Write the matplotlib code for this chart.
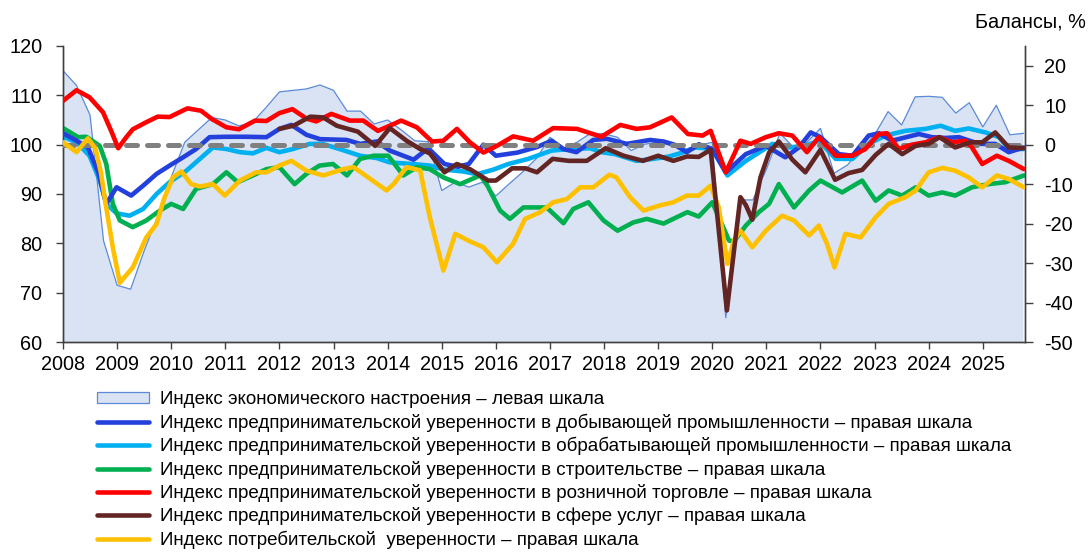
import matplotlib
matplotlib.use("Agg")
import matplotlib.pyplot as plt
import matplotlib.patches as mpatches
import numpy as np

plt.rcParams["font.family"] = ["Liberation Sans", "DejaVu Sans"]
plt.rcParams["axes.unicode_minus"] = False

# economic sentiment index (left scale), quarterly from 2008 Q1
esi_t = np.arange(2008, 2025.76, 0.25)
esi_v = [115, 112, 106, 80.5, 71.5, 70.7, 78.5, 85.5, 93.4, 100.5, 103, 105.5,
         105, 103.8, 104.5, 107.5, 110.7, 111, 111.3, 112.1, 111, 106.8, 106.8, 104.2,
         105, 103, 100.8, 100.6, 90.7, 92.4, 91.4, 92.4, 89.6, 92.1, 94.5, 97.2,
         101.5, 99.3, 100.5, 102.3, 102.2, 101.5, 98.8, 100.1, 100.5, 99.8, 99.1, 99.8,
         100.5, 64.9, 88.8, 88.8, 95, 102.3, 99.5, 100.5, 103.3, 94.2, 95.9, 99,
         102, 106.7, 104, 109.7, 109.8, 109.6, 106.4, 108.5, 103.6, 108, 102, 102.3]

# business confidence, mining (right scale)
mining_t = [2008.0, 2008.25, 2008.46, 2008.65, 2008.80, 2008.99, 2009.26, 2009.48, 2009.73,
            2009.97, 2010.22, 2010.46, 2010.71, 2011.02, 2011.39, 2011.76, 2012.0, 2012.22,
            2012.5, 2012.75, 2013.0, 2013.24, 2013.49, 2013.8, 2014.04, 2014.48, 2014.75,
            2015.05, 2015.3, 2015.5, 2015.77, 2016.0, 2016.4, 2016.76, 2017.03, 2017.25,
            2017.49, 2017.80, 2018.05, 2018.42, 2018.85, 2019.1, 2019.3, 2019.53, 2019.75,
            2020.0, 2020.25, 2020.62, 2020.99, 2021.35, 2021.6, 2021.82, 2022.0, 2022.34,
            2022.59, 2022.89, 2023.08, 2023.32, 2023.82, 2024.06, 2024.31, 2024.56, 2024.93,
            2025.23, 2025.48, 2025.76]
mining_v = [2.9, 1.0, -0.7, -7, -15, -10.8, -12.9, -10.4, -7.4,
            -5.3, -3.2, -1.1, 1.9, 2.0, 2.0, 1.9, 4.0, 5.0,
            2.5, 1.4, 1.3, 1.2, 0.2, 0.8, -1.5, -3.8, -0.9,
            -4.9, -5.6, -4.9, 0.0, -2.8, -2.0, -0.6, 1.0, -1.1,
            -1.9, 1.2, 1.5, 0.2, 1.2, 0.8, 0.0, -1.9, 0.1,
            -1.1, -7.0, -2.4, -0.3, -3.2, -0.7, 3.1, 1.9, -2.4,
            -2.8, 2.3, 2.9, 1.0, 2.7, 1.9, 1.7, 1.9, 0.2,
            0.2, -1.9, -0.7]

# business confidence, manufacturing
manuf_t = [2008.0, 2008.25, 2008.49, 2008.68, 2008.80, 2008.99, 2009.23, 2009.48, 2009.73,
           2009.97, 2010.28, 2010.53, 2010.77, 2011.02, 2011.27, 2011.51, 2011.76, 2012.0,
           2012.25, 2012.56, 2012.80, 2013.11, 2013.49, 2013.8, 2014.04, 2014.45, 2014.78,
           2015.03, 2015.4, 2015.65, 2015.96, 2016.23, 2016.6, 2017.03, 2017.37, 2017.74,
           2017.95, 2018.2, 2018.6, 2018.91, 2019.2, 2019.45, 2019.69, 2020.0, 2020.28,
           2020.62, 2020.92, 2021.11, 2021.42, 2021.72, 2021.97, 2022.28, 2022.59, 2022.89,
           2023.20, 2023.57, 2023.94, 2024.22, 2024.49, 2024.74, 2025.05, 2025.30, 2025.48,
           2025.76]
manuf_v = [2.0, 0.6, -2.8, -9.1, -15.0, -17.4, -18.0, -16.3, -12.5,
           -9.5, -6.6, -3.6, -0.7, -1.1, -1.9, -2.2, -0.8, -1.9,
           -1.1, 0.2, 0.2, -1.1, -2.8, -3.4, -4.5, -4.9, -5.3,
           -6.3, -6.8, -7.5, -6.3, -4.9, -3.6, -1.5, -1.1, -0.9,
           -1.9, -2.4, -4.1, -3.6, -3.0, -2.0, -0.7, -1.1, -7.8,
           -4.1, -1.5, 0.2, -0.7, -0.3, 1.0, -3.6, -3.6, 0.2,
           2.3, 3.5, 4.0, 4.8, 3.5, 4.1, 3.1, 1.9, -1.1,
           -1.1]

# business confidence, construction
constr_t = [2008.0, 2008.28, 2008.43, 2008.68, 2008.80, 2008.92, 2009.05, 2009.29, 2009.54,
            2009.79, 2010.0, 2010.22, 2010.46, 2010.77, 2011.02, 2011.23, 2011.51, 2011.76,
            2012.0, 2012.28, 2012.50, 2012.74, 2012.99, 2013.25, 2013.49, 2013.74, 2014.01,
            2014.29, 2014.54, 2014.78, 2015.03, 2015.34, 2015.71, 2015.83, 2016.08, 2016.26,
            2016.51, 2016.94, 2017.25, 2017.43, 2017.71, 2017.99, 2018.25, 2018.54, 2018.79,
            2019.1, 2019.28, 2019.54, 2019.75, 2020.0, 2020.31, 2020.40, 2020.62, 2020.86,
            2021.05, 2021.23, 2021.51, 2021.79, 2022.0, 2022.40, 2022.77, 2023.02, 2023.26,
            2023.51, 2023.76, 2024.0, 2024.25, 2024.49, 2024.80, 2025.11, 2025.42, 2025.76]
constr_v = [4.2, 1.9, 2.0, -0.3, -4.9, -15.0, -19.2, -20.9, -19.2,
            -16.7, -15.0, -16.3, -11.2, -10.0, -7.0, -9.5, -7.8, -6.2,
            -5.7, -10.0, -7.4, -5.3, -4.9, -7.8, -3.6, -2.8, -2.8,
            -7.8, -5.7, -6.2, -8.3, -10.0, -7.8, -10.0, -16.7, -18.8,
            -15.9, -15.9, -19.9, -16.3, -14.6, -19.2, -21.8, -19.7, -18.8,
            -20.0, -18.8, -17.1, -18.2, -14.6, -24.3, -24.5, -20.5, -17.1,
            -15.0, -10.0, -15.9, -11.6, -9.1, -12.1, -9.1, -14.2, -11.6,
            -12.9, -10.8, -12.9, -12.1, -12.9, -10.8, -10.0, -9.5, -7.8]

# business confidence, retail
retail_t = [2008.0, 2008.25, 2008.49, 2008.74, 2008.89, 2009.02, 2009.17, 2009.29, 2009.54,
            2009.75, 2009.97, 2010.3, 2010.55, 2010.75, 2011.02, 2011.25, 2011.55, 2011.76,
            2012.0, 2012.24, 2012.5, 2012.68, 2012.96, 2013.3, 2013.55, 2013.82, 2014.04,
            2014.25, 2014.54, 2014.82, 2015.03, 2015.28, 2015.52, 2015.77, 2016.02, 2016.32,
            2016.69, 2017.06, 2017.5, 2017.95, 2018.30, 2018.6, 2018.85, 2019.25, 2019.55,
            2019.82, 2019.97, 2020.25, 2020.52, 2020.71, 2020.99, 2021.23, 2021.48, 2021.75,
            2021.97, 2022.28, 2022.59, 2022.83, 2023.08, 2023.23, 2023.45, 2023.69, 2023.94,
            2024.19, 2024.43, 2024.68, 2024.80, 2024.99, 2025.26, 2025.48, 2025.76]
retail_v = [11.1, 13.8, 12.0, 8.2, 3.5, -0.9, 1.9, 3.9, 5.7,
            7.1, 7.0, 9.2, 8.6, 6.5, 4.4, 3.9, 6.1, 6.0,
            8.0, 9.0, 6.6, 5.9, 7.8, 6.1, 6.1, 3.5, 4.8,
            6.1, 4.4, 0.8, 1.0, 4.0, 0.6, -2.0, -0.3, 2.1,
            1.0, 4.2, 4.0, 2.0, 5.0, 4.0, 4.4, 6.9, 2.7,
            2.3, 3.5, -7.0, 1.0, 0.2, 1.9, 2.9, 2.3, -1.9,
            1.9, -2.8, -2.8, -1.1, 2.7, 2.9, -1.1, 0.0, 0.6,
            1.9, 0.6, 1.0, -0.7, -4.9, -2.8, -4.1, -6.2]

# business confidence, services
serv_t = [2012.0, 2012.26, 2012.57, 2012.81, 2013.06, 2013.45, 2013.77, 2014.04, 2014.35,
          2014.6, 2014.78, 2015.05, 2015.28, 2015.52, 2015.86, 2016.0, 2016.3, 2016.55,
          2016.76, 2017.05, 2017.35, 2017.68, 2018.03, 2018.36, 2018.72, 2019.0, 2019.28,
          2019.53, 2019.75, 2019.97, 2020.27, 2020.40, 2020.52, 2020.62, 2020.74, 2020.89,
          2021.05, 2021.23, 2021.48, 2021.72, 2022.0, 2022.27, 2022.52, 2022.77, 2023.02,
          2023.26, 2023.51, 2023.76, 2024.0, 2024.2, 2024.49, 2024.77, 2024.99, 2025.23,
          2025.48, 2025.76]
serv_v = [4.0, 4.8, 7.1, 6.9, 4.8, 3.3, -0.3, 4.2, 1.0,
          -1.1, -2.2, -7.0, -4.9, -6.2, -9.1, -9.1, -6.0, -6.0,
          -7.0, -3.6, -4.1, -4.1, -0.9, -2.8, -4.1, -2.8, -4.1,
          -3.0, -3.1, -1.3, -42.0, -27.0, -13.3, -15.3, -19.0, -8.3,
          -2.0, 0.8, -3.8, -7.0, -1.3, -8.9, -7.2, -6.4, -2.6,
          0.2, -2.4, -0.3, 0.2, 1.9, -0.7, 0.6, 0.6, 3.1,
          -0.7, -0.9]

# consumer confidence
cons_t = [2008.0, 2008.25, 2008.46, 2008.6, 2008.7, 2008.8, 2008.92, 2009.05, 2009.29,
          2009.54, 2009.73, 2009.86, 2010.03, 2010.19, 2010.37, 2010.53, 2010.77, 2010.99,
          2011.27, 2011.57, 2011.76, 2012.0, 2012.22, 2012.50, 2012.81, 2013.18, 2013.37,
          2013.64, 2013.98, 2014.11, 2014.35, 2014.6, 2014.78, 2015.03, 2015.25, 2015.52,
          2015.77, 2016.02, 2016.32, 2016.54, 2016.82, 2017.06, 2017.31, 2017.56, 2017.80,
          2018.1, 2018.23, 2018.48, 2018.73, 2019.03, 2019.28, 2019.53, 2019.75, 2019.97,
          2020.12, 2020.28, 2020.40, 2020.52, 2020.74, 2020.99, 2021.29, 2021.51, 2021.79,
          2021.97, 2022.12, 2022.26, 2022.46, 2022.74, 2023.02, 2023.26, 2023.57, 2023.76,
          2024.0, 2024.25, 2024.49, 2024.74, 2024.99, 2025.26, 2025.48, 2025.76]
cons_v = [0.6, -1.9, 1.6, -1.0, -7, -16, -26.0, -35.0, -31.1,
          -23.5, -20.1, -14, -8.3, -6.8, -10, -10.6, -10.0, -12.9,
          -9.1, -7.0, -7.0, -5.3, -4.1, -6.6, -7.8, -6.2, -5.7,
          -8.3, -11.6, -10.0, -5.7, -6.5, -18.4, -31.9, -22.6, -24.5,
          -26.0, -29.8, -25.1, -18.8, -17.1, -14.6, -13.8, -10.8, -10.8,
          -7.6, -8.3, -13.3, -16.7, -15.4, -14.6, -12.9, -12.9, -10.4,
          -15.9, -30.2, -24.3, -21.8, -26.0, -21.8, -18.0, -19.2, -23.0,
          -20.5, -25.1, -31.1, -22.6, -23.5, -18.4, -15.0, -13.3, -11.6,
          -7.0, -5.9, -6.6, -8.3, -10.8, -7.8, -8.7, -10.8]

labels = [
    "Индекс экономического настроения – левая шкала",
    "Индекс предпринимательской уверенности в добывающей промышленности – правая шкала",
    "Индекс предпринимательской уверенности в обрабатывающей промышленности – правая шкала",
    "Индекс предпринимательской уверенности в строительстве – правая шкала",
    "Индекс предпринимательской уверенности в розничной торговле – правая шкала",
    "Индекс предпринимательской уверенности в сфере услуг – правая шкала",
    "Индекс потребительской  уверенности – правая шкала",
]
years = list(range(2008, 2026))

fig = plt.figure(figsize=(10.89, 5.52), dpi=100)
ax = fig.add_axes([63 / 1089, 1 - 342 / 552, 962 / 1089, 296 / 552])
ax2 = ax.twinx()

area_fc, area_ec = "#dae3f3", "#5b8bd8"
ax.fill_between(esi_t, esi_v, 60, facecolor=area_fc, edgecolor="none")
ax.plot(esi_t, esi_v, color=area_ec, lw=0.9)

lw = 3.3
kw = dict(lw=lw, solid_joinstyle="round", solid_capstyle="round")
h_min, = ax2.plot(mining_t, mining_v, color="#2340dc", zorder=3, **kw)
h_man, = ax2.plot(manuf_t, manuf_v, color="#00b0f0", zorder=2, **kw)
h_con, = ax2.plot(constr_t, constr_v, color="#00b050", zorder=2.5, **kw)
ax2.axhline(0, color="#808080", lw=3.6, dashes=(2.2, 2.0), dash_capstyle="round", zorder=3.5)
h_ret, = ax2.plot(retail_t, retail_v, color="#ff0000", zorder=4, **kw)
h_cns, = ax2.plot(cons_t, cons_v, color="#ffc000", zorder=5, **kw)
h_srv, = ax2.plot(serv_t, serv_v, color="#632523", zorder=6, **kw)

ax.set_xlim(2008, 2025.78)
ax.set_ylim(60, 120)
ax2.set_ylim(-50, 25)
ax.set_yticks(range(60, 121, 10))
ax2.set_yticks(range(-50, 21, 10))
ax.set_xticks(years)
ax.set_xticklabels([str(y) for y in years])

spine_c = "#404040"
for a in (ax, ax2):
    a.spines["top"].set_visible(False)
    for s in ("left", "right", "bottom"):
        a.spines[s].set_color(spine_c)
        a.spines[s].set_linewidth(1.0)
ax.tick_params(axis="y", length=5, width=1, pad=10, labelsize=14.3, color=spine_c)
ax.tick_params(axis="x", length=5, width=1, pad=4, labelsize=14.3, color=spine_c)
ax2.tick_params(axis="y", length=6, width=1, pad=8, labelsize=14.3, color=spine_c)

fig.text(0.997, 1 - 22 / 552, "Балансы, %", ha="right", va="center", fontsize=14.3)

area_patch = mpatches.Patch(facecolor=area_fc, edgecolor=area_ec, lw=0.9)
handles = [area_patch, h_min, h_man, h_con, h_ret, h_srv, h_cns]
fig.legend(handles, labels, loc="upper left", bbox_to_anchor=(97 / 1089, 1 - 391 / 552),
           frameon=False, fontsize=13.5, handlelength=2.75, handletextpad=0.6,
           labelspacing=0.285, borderpad=0, borderaxespad=0, handleheight=0.55)

fig.savefig("out.png", dpi=100)
